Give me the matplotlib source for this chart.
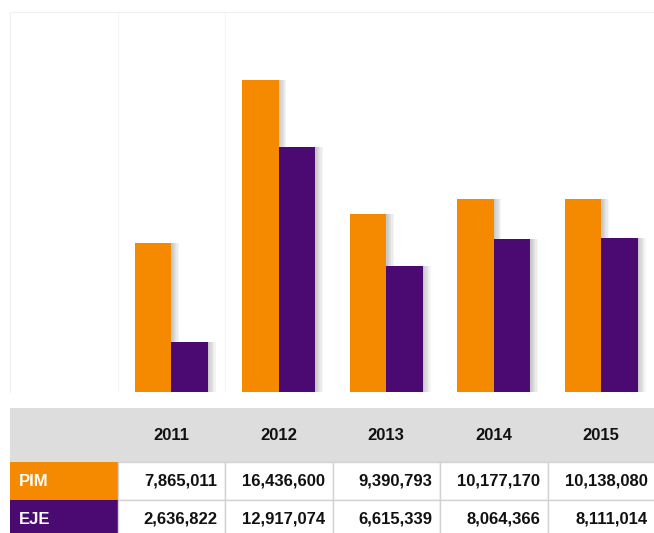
import matplotlib.pyplot as plt
from matplotlib.patches import Rectangle

years = ['2011', '2012', '2013', '2014', '2015']
pim = [7865011, 16436600, 9390793, 10177170, 10138080]
eje = [2636822, 12917074, 6615339, 8064366, 8111014]
series = ['PIM', 'EJE']

orange = '#F58A00'
purple = '#4A0A72'
W, H = 654, 533

plt.rcParams['font.family'] = ['Liberation Sans', 'DejaVu Sans']

fig = plt.figure(figsize=(W / 100, H / 100), dpi=100)

# chart area
ax = fig.add_axes([10 / W, (H - 392) / H, 645 / W, (392 - 12) / H])
ax.set_xlim(-1.5, 4.5)
ax.set_ylim(0, 20000000)
bw = 0.34
x = list(range(len(years)))

for b in [-0.5, 0.5]:
    ax.axvline(b, color='#f5f5f5', lw=0.8, zorder=0)

for vals, off, col in [(pim, -bw / 2, orange), (eje, bw / 2, purple)]:
    # soft shadow to the right
    for k in range(1, 7):
        ax.bar([i + off + k * 0.012 for i in x], vals, width=bw, color='#555555',
               alpha=0.06, lw=0, zorder=1)
    ax.bar([i + off for i in x], vals, width=bw, color=col, lw=0, zorder=2)

ax.set_xticks([])
ax.set_yticks([])
for s in ax.spines.values():
    s.set_visible(False)
ax.spines['top'].set_visible(True)
ax.spines['left'].set_visible(True)
ax.spines['top'].set_color('#f0f0f0')
ax.spines['left'].set_color('#f0f0f0')

# data table
tx = fig.add_axes([10 / W, 0, 645 / W, (H - 408) / H])
tx.set_xlim(-1.5, 4.5)
tx.set_ylim(125, 0)
tx.axis('off')

hdr_h, row_h = 54, 38
tx.add_patch(Rectangle((-1.5, 0), 6, hdr_h, color='#dddddd', lw=0))
for i, y in enumerate(years):
    tx.text(i, hdr_h / 2, y, ha='center', va='center', fontsize=12,
            fontweight='bold', color='#111111')

rows = [pim, eje]
cols = [orange, purple]
for r, (name, vals) in enumerate(zip(series, rows)):
    y0 = hdr_h + r * row_h
    tx.add_patch(Rectangle((-1.5, y0), 1, row_h, color=cols[r], lw=0))
    tx.text(-1.42, y0 + row_h / 2, name, ha='left', va='center', fontsize=12,
            fontweight='bold', color='white')
    for i, v in enumerate(vals):
        tx.add_patch(Rectangle((i - 0.5, y0), 1, row_h, facecolor='white',
                               edgecolor='#d2d2d2', lw=1))
        tx.text(i + 0.43, y0 + row_h / 2, f'{v:,}', ha='right', va='center',
                fontsize=12, fontweight='bold', color='#111111')

fig.savefig('out.png', dpi=100)
